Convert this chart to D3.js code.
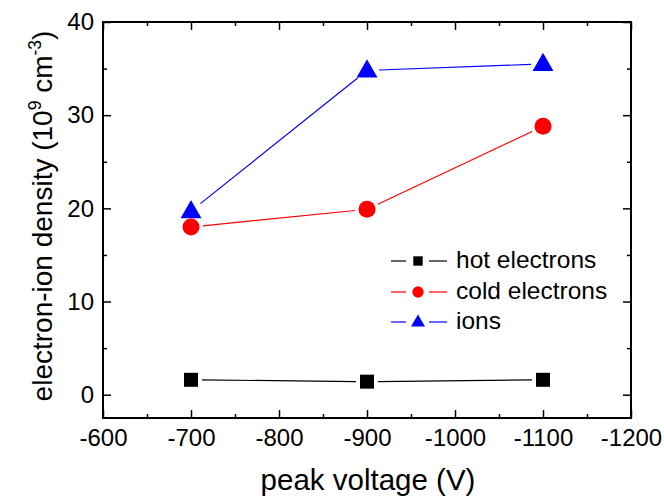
<!DOCTYPE html>
<html>
<head>
<meta charset="utf-8">
<script src="https://cdn.jsdelivr.net/npm/d3@7"></script>
<style>
  body { margin: 0; background: #fff; }
  svg { display: block; font-family: "Liberation Sans", Arial, sans-serif; }
</style>
</head>
<body>
<svg id="chart" width="664" height="498"></svg>
<script>
// Peak voltage (V) for each measurement
const voltages = [-700, -900, -1100];
// Densities in units of 1e9 cm^-3
const hotElectrons = [1.6, 1.4, 1.6];
const coldElectrons = [18.0, 19.9, 28.8];
const ions = [19.7, 34.8, 35.5];

const xTicks = [-600, -700, -800, -900, -1000, -1100, -1200];
const yTicks = [0, 10, 20, 30, 40];

const series = [
  { name: "hot electrons", values: hotElectrons, color: "#000000", symbol: "square" },
  { name: "cold electrons", values: coldElectrons, color: "#ff0000", symbol: "circle" },
  { name: "ions", values: ions, color: "#0000ff", symbol: "triangle" }
];

const svg = d3.select("#chart");
const m = { left: 103, right: 631, top: 22, bottom: 418 };

const x = d3.scaleLinear().domain([-600, -1200]).range([m.left, m.right]);
const y = d3.scaleLinear().domain([-2.5, 40]).range([m.bottom, m.top]);

// Frame
svg.append("rect")
  .attr("x", m.left).attr("y", m.top)
  .attr("width", m.right - m.left).attr("height", m.bottom - m.top)
  .attr("fill", "none").attr("stroke", "#000").attr("stroke-width", 2);

const xMinor = d3.range(-650, -1200, -100);
const yMinor = [5, 15, 25, 35];
const plain = d => String(d);   // plain hyphen-minus labels

function axisGroup(axis, tx, ty) {
  const g = svg.append("g").attr("transform", `translate(${tx},${ty})`).call(axis);
  g.select(".domain").remove();
  g.selectAll("line").attr("stroke", "#000").attr("stroke-width", 1.5);
  return g;
}

// Bottom axis with labels, ticks inward
const xb = axisGroup(d3.axisBottom(x).tickValues(xTicks).tickSize(-8).tickPadding(11)
  .tickFormat(plain), 0, m.bottom);
xb.selectAll("text").attr("font-size", 24).attr("fill", "#000")
  .attr("font-family", "Liberation Sans, Arial, sans-serif");
axisGroup(d3.axisBottom(x).tickValues(xMinor).tickSize(-4).tickFormat(""), 0, m.bottom);
// Top ticks
axisGroup(d3.axisTop(x).tickValues(xTicks).tickSize(-8).tickFormat(""), 0, m.top);
axisGroup(d3.axisTop(x).tickValues(xMinor).tickSize(-4).tickFormat(""), 0, m.top);

// Left axis with labels
const yl = axisGroup(d3.axisLeft(y).tickValues(yTicks).tickSize(-8).tickPadding(9)
  .tickFormat(plain), m.left, 0);
yl.selectAll("text").attr("font-size", 24).attr("fill", "#000")
  .attr("font-family", "Liberation Sans, Arial, sans-serif");
axisGroup(d3.axisLeft(y).tickValues(yMinor).tickSize(-4).tickFormat(""), m.left, 0);
// Right ticks
axisGroup(d3.axisRight(y).tickValues(yTicks).tickSize(-8).tickFormat(""), m.right, 0);
axisGroup(d3.axisRight(y).tickValues(yMinor).tickSize(-4).tickFormat(""), m.right, 0);

// Axis titles
svg.append("text")
  .attr("x", 368).attr("y", 490)
  .attr("text-anchor", "middle").attr("font-size", 29.5).attr("fill", "#000")
  .text("peak voltage (V)");

const yt = svg.append("text")
  .attr("transform", `translate(52,216) rotate(-90)`)
  .attr("text-anchor", "middle").attr("font-size", 28).attr("fill", "#000");
yt.append("tspan").text("electron-ion density (10");
yt.append("tspan").attr("font-size", 17.5).attr("dy", -11).text("9");
yt.append("tspan").attr("dy", 11).text(" cm");
yt.append("tspan").attr("font-size", 17.5).attr("dy", -11).text("-3");
yt.append("tspan").attr("dy", 11).text(")");

const symbolSize = { square: 196, circle: 227, triangle: 190 };
const symbolType = { square: d3.symbolSquare, circle: d3.symbolCircle, triangle: d3.symbolTriangle };
const gap = { square: 11, circle: 12, triangle: 12 };

function drawMarker(g, s, cx, cy) {
  const offset = s.symbol === "triangle" ? 1 : 0;
  g.append("path")
    .attr("d", d3.symbol().type(symbolType[s.symbol]).size(symbolSize[s.symbol])())
    .attr("transform", `translate(${cx},${cy + offset})`)
    .attr("fill", s.color);
}

// Lines (with small gaps at the markers) and markers
series.forEach(s => {
  const g = svg.append("g");
  const pts = s.values.map((v, i) => [x(voltages[i]), y(v)]);
  for (let i = 0; i < pts.length - 1; i++) {
    const [x1, y1] = pts[i], [x2, y2] = pts[i + 1];
    const len = Math.hypot(x2 - x1, y2 - y1);
    const ux = (x2 - x1) / len, uy = (y2 - y1) / len;
    const d = gap[s.symbol];
    g.append("line")
      .attr("x1", x1 + ux * d).attr("y1", y1 + uy * d)
      .attr("x2", x2 - ux * d).attr("y2", y2 - uy * d)
      .attr("stroke", s.color).attr("stroke-width", 1.2);
  }
  pts.forEach(p => drawMarker(g, s, p[0], p[1]));
});

// Legend
const legend = svg.append("g");
const legendY = [261, 292, 322];
series.forEach((s, i) => {
  const ly = legendY[i];
  legend.append("line").attr("x1", 391).attr("x2", 406).attr("y1", ly).attr("y2", ly)
    .attr("stroke", s.color).attr("stroke-width", 1.2);
  legend.append("line").attr("x1", 429).attr("x2", 447).attr("y1", ly).attr("y2", ly)
    .attr("stroke", s.color).attr("stroke-width", 1.2);
  legend.append("path")
    .attr("d", d3.symbol().type(symbolType[s.symbol]).size(symbolSize[s.symbol] * 0.45)())
    .attr("transform", `translate(418,${ly + (s.symbol === "triangle" ? 0.5 : 0)})`)
    .attr("fill", s.color);
  legend.append("text").attr("x", 456).attr("y", ly + 7)
    .attr("font-size", 24.5).attr("fill", "#000").text(s.name);
});
</script>
</body>
</html>
